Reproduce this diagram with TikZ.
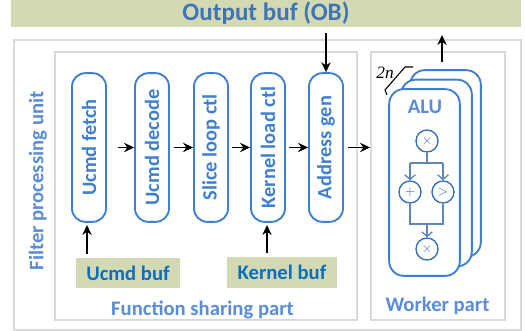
\documentclass[tikz,border=0pt]{standalone}
\usepackage{fontspec}
\setmainfont{Carlito}
\newfontfamily\timesfont{Liberation Serif}
\usetikzlibrary{arrows.meta}
\definecolor{bufgreen}{HTML}{D3D9B3}
\definecolor{partgray}{HTML}{D9D9D9}
\definecolor{pillblue}{HTML}{3F7FCF}
\definecolor{textblue}{HTML}{5B8CD6}
\definecolor{titleblue}{HTML}{3F74B5}
\definecolor{bufblue}{HTML}{0B6FBB}
\definecolor{opblue}{HTML}{2F6DB5}
\definecolor{wireblue}{HTML}{5F86B5}
\tikzset{
	partbox/.style={draw=partgray,line width=1.4pt,inner sep=0pt},
	pill/.style={draw=pillblue,line width=1.4pt,rounded corners=10pt,minimum width=25.5pt,minimum height=111.5pt,inner sep=0pt,text=pillblue,font=\fontsize{15.3}{17}\selectfont\bfseries},
	bufbox/.style={fill=bufgreen,inner sep=0pt,text=bufblue,font=\fontsize{15.5}{17}\selectfont\bfseries},
	alubox/.style={draw=pillblue,fill=white,line width=1.4pt,rounded corners=11pt,minimum width=53pt,minimum height=140pt,inner sep=0pt},
	opnode/.style={circle,draw=opblue,line width=1pt,minimum size=16.5pt,inner sep=0pt,text=opblue,font=\fontsize{10}{10}\selectfont},
	partlabel/.style={text=textblue,font=\fontsize{15.5}{17}\selectfont\bfseries},
	wire/.style={draw=wireblue,line width=1pt},
	wiretip/.style={wire,-{Straight Barb[length=3.5pt,width=8pt]}},
	flow/.style={-{Stealth[length=7.5pt,width=7pt]},line width=1.1pt},
}
\begin{document}
\begin{tikzpicture}[x=0.75pt,y=-0.75pt]
	\useasboundingbox (0,0) rectangle (525,331);
	% buffers and frames
	\node[fill=bufgreen,minimum width=382.5pt,minimum height=20pt,inner sep=0pt,text=titleblue,font=\fontsize{18.8}{20}\selectfont\bfseries] (ob) at (266,13.5) {Output buf (OB)};
	\node[partbox,minimum width=380pt,minimum height=217.5pt] (filter) at (267.5,185) {};
	\node[partbox,minimum width=226.5pt,minimum height=201pt] (sharing) at (206,186) {};
	\node[partbox,minimum width=100.5pt,minimum height=201pt] (worker) at (438,186) {};
	\node[partlabel,rotate=90] (filterlab) at (38,181) {Filter processing unit};
	\node[partlabel] (sharinglab) at (202.5,310) {Function sharing part};
	\node[partlabel] (workerlab) at (437.5,306) {Worker part};
	% function sharing part
	\node[pill] (fetch) at (89,147.5) {\rotatebox{90}{Ucmd fetch}};
	\node[pill] (decode) at (152,147.5) {\rotatebox{90}{Ucmd decode}};
	\node[pill] (slice) at (211,147.5) {\rotatebox{90}{Slice loop ctl}};
	\node[pill] (kernel) at (268,147.5) {\rotatebox{90}{Kernel load ctl}};
	\node[pill] (addr) at (326,147.5) {\rotatebox{90}{Address gen}};
	\node[bufbox,minimum width=78pt,minimum height=22.5pt] (ucmdbuf) at (128,273) {Ucmd buf};
	\node[bufbox,minimum width=82.5pt,minimum height=23pt] (kernbuf) at (282,272.5) {Kernel buf};
	\coordinate (pa) at (326,33);
	\coordinate (fa) at (87,254);
	\coordinate (fb) at (87,225);
	\coordinate (ka) at (267,253);
	\coordinate (kb) at (267,225);
	\coordinate (wkin) at (worker.west |- addr);
	\draw[flow] (pa)--(addr.north);
	\draw[flow] (fa)--(fb);
	\draw[flow] (ka)--(kb);
	\draw[flow,shorten <=8pt] (fetch)--(decode);
	\draw[flow,shorten <=3pt] (decode)--(slice);
	\draw[flow,shorten <=2.2pt] (slice)--(kernel);
	\draw[flow,shorten <=2.2pt] (kernel)--(addr);
	\draw[flow,shorten <=3pt] (addr)--(wkin);
	% worker part
	\node[alubox] (alub) at (445.5,163.5) {};
	\node[alubox] (alum) at (436.5,173) {};
	\node[alubox] (aluf) at (424.5,182.5) {};
	\node[partlabel] (alulab) at (425,107) {ALU};
	\coordinate (oa) at (442,62);
	\coordinate (ob2) at (442,35);
	\draw[flow] (oa)--(ob2);
	\draw[line width=0.8pt] (387,95)--(385,90)--(405,67)--(413,67);
	\node[font=\fontsize{13}{13}\timesfont\itshape,inner sep=0pt] (cnt) at (385,73) {2n};
	\node[opnode] (mula) at (427,141) {$\times$};
	\node[opnode] (add) at (410,192) {$+$};
	\node[opnode] (cmp) at (443,192) {$>$};
	\node[opnode] (mulb) at (427,249) {$\times$};
	\coordinate (splitl) at (410,163);
	\coordinate (splitr) at (443,163);
	\coordinate (joinl) at (410,224);
	\coordinate (joinr) at (443,224);
	\coordinate (splitc) at (427,163);
	\coordinate (joinc) at (427,224);
	\draw[wire] (mula)--(splitc) (splitl)--(splitr);
	\draw[wiretip] (splitl)--(add);
	\draw[wiretip] (splitr)--(cmp);
	\draw[wire] (add)--(joinl)--(joinr)--(cmp);
	\draw[wiretip] (joinc)--(mulb);
\end{tikzpicture}
\end{document}
